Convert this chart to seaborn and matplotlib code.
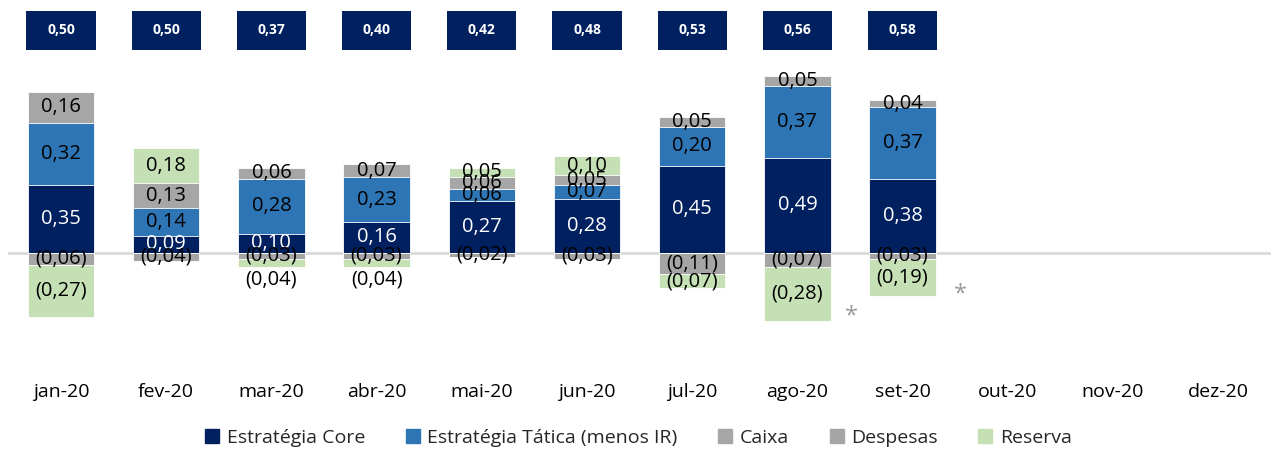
import numpy as np
import pandas as pd
import matplotlib
matplotlib.use('Agg')
import matplotlib.pyplot as plt
import matplotlib.transforms as mtransforms
from matplotlib.patches import Rectangle
from matplotlib.lines import Line2D
import seaborn as sns

# ---------------- data ----------------
months = ['jan-20', 'fev-20', 'mar-20', 'abr-20', 'mai-20', 'jun-20',
          'jul-20', 'ago-20', 'set-20', 'out-20', 'nov-20', 'dez-20']
core = [0.35, 0.09, 0.10, 0.16, 0.27, 0.28, 0.45, 0.49, 0.38]
tatica = [0.32, 0.14, 0.28, 0.23, 0.06, 0.07, 0.20, 0.37, 0.37]
caixa = [0.16, 0.13, 0.06, 0.07, 0.06, 0.05, 0.05, 0.05, 0.04]
despesas = [-0.06, -0.04, -0.03, -0.03, -0.02, -0.03, -0.11, -0.07, -0.03]
reserva = [-0.27, 0.18, -0.04, -0.04, 0.05, 0.10, -0.07, -0.28, -0.19]
totais = [0.50, 0.50, 0.37, 0.40, 0.42, 0.48, 0.53, 0.56, 0.58]
series_names = ['Estratégia Core', 'Estratégia Tática (menos IR)', 'Caixa',
                'Despesas', 'Reserva']

# ---------------- style ----------------
sns.set_style('white')
plt.rcParams['font.family'] = ['Open Sans', 'DejaVu Sans']

NAVY = '#002060'
BLUE = '#2E75B6'
GREY = '#A6A6A6'
GREY2 = '#A5A5A5'
GREEN = '#C5E0B4'
colors = [NAVY, BLUE, GREY, GREY2, GREEN]

n = len(months)


def pad(a):
    return np.array(list(a) + [0.0] * (n - len(a)), dtype=float)


core_a, tat_a, caixa_a, desp_a, res_a = map(pad, [core, tatica, caixa, despesas, reserva])
res_pos = np.clip(res_a, 0, None)
res_neg = np.clip(res_a, None, 0)

fig = plt.figure(figsize=(12.76, 4.49), dpi=100)
ax = fig.add_axes([8.4 / 1276, 79 / 449, 1262.4 / 1276, 370 / 449])

BW = 0.63

# positive stack: cumulative tops drawn from the largest down
pos_layers = [(core_a, NAVY), (tat_a, BLUE), (caixa_a, GREY), (res_pos, GREEN)]
pos_cum = np.cumsum([l for l, _ in pos_layers], axis=0)
for k in reversed(range(len(pos_layers))):
    df = pd.DataFrame({'mes': months, 'v': pos_cum[k]})
    sns.barplot(data=df, x='mes', y='v', order=months, color=pos_layers[k][1],
                saturation=1, width=BW, errorbar=None, ax=ax,
                edgecolor='white', linewidth=0.6, zorder=2)

neg_layers = [(desp_a, GREY2), (res_neg, GREEN)]
neg_cum = np.cumsum([l for l, _ in neg_layers], axis=0)
for k in reversed(range(len(neg_layers))):
    df = pd.DataFrame({'mes': months, 'v': neg_cum[k]})
    sns.barplot(data=df, x='mes', y='v', order=months, color=neg_layers[k][1],
                saturation=1, width=BW, errorbar=None, ax=ax,
                edgecolor='white', linewidth=0.6, zorder=2)

# empty bars (months without data) get no outline
for p in ax.patches:
    if abs(p.get_height()) < 1e-12:
        p.set_linewidth(0)
        p.set_visible(False)

ax.axhline(0, color='#D9D9D9', lw=2, zorder=1)


def fmt(v):
    s = f"{abs(v):.2f}".replace('.', ',')
    return f"({s})" if v < 0 else s


LFS = 14.5
for i in range(len(core)):
    base = 0.0
    for k, (arr, c) in enumerate(pos_layers):
        v = arr[i]
        if v > 0:
            ax.text(i, base + v / 2, fmt(v), ha='center', va='center',
                    fontsize=LFS, color='white' if k == 0 else 'black', zorder=5)
            base += v
    base = 0.0
    for k, (arr, c) in enumerate(neg_layers):
        v = arr[i]
        if v < 0:
            y = base + v / 2
            if k == 1 and abs(v) < 0.05:
                y = base + v - 0.065
            ax.text(i, y, fmt(v), ha='center', va='center',
                    fontsize=LFS, color='black', zorder=5)
            base += v

# total boxes on top
trans = mtransforms.blended_transform_factory(ax.transData, ax.transAxes)
BOXW = 0.656
for i, t in enumerate(totais):
    ax.add_patch(Rectangle((i - BOXW / 2, 1 - 50 / 370), BOXW, 39 / 370,
                           transform=trans, facecolor=NAVY, edgecolor='none',
                           zorder=3, clip_on=False))
    ax.text(i, 1 - 30.5 / 370, fmt(t), transform=trans, ha='center', va='center',
            color='white', fontsize=10, fontweight='bold', zorder=4)

# asterisks
ax.text(7.51, -0.325, '*', ha='center', va='center', fontsize=17, color='#9A9A9A')
ax.text(8.55, -0.215, '*', ha='center', va='center', fontsize=17, color='#9A9A9A')

ax.set_ylim(-0.603, 1.304)
ax.set_xlim(-0.5, n - 0.5)
ax.set_xlabel('')
ax.set_ylabel('')
ax.set_yticks([])
ax.tick_params(axis='x', length=0, pad=9.4, labelsize=14, labelcolor='black')
sns.despine(ax=ax, left=True, bottom=True)

handles = [Line2D([], [], marker='s', color=c, linestyle='none', markersize=9.5)
           for c in colors]
fig.legend(handles, series_names, loc='center', bbox_to_anchor=(0.5, 1 - 438 / 449),
           ncol=5, frameon=False, fontsize=14, handletextpad=0.35,
           columnspacing=2.05, handlelength=0.8)

fig.savefig('out.png', dpi=100)
